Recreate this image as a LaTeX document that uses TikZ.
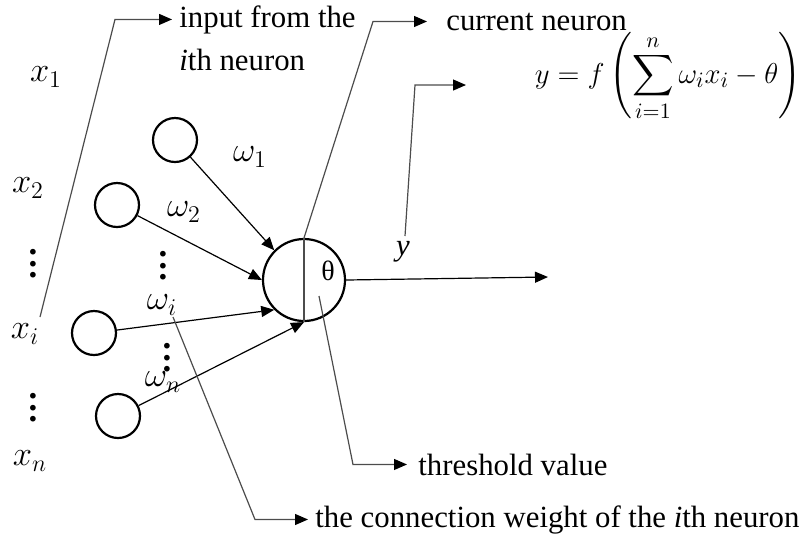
\documentclass[tikz,border=0pt]{standalone}
\usepackage{amsmath}
\usepackage{fontspec}
\setmainfont{Liberation Serif}
\usetikzlibrary{positioning,arrows.meta,calc}
\newcommand{\vdts}{\vbox{\baselineskip=5.8pt\lineskiplimit=0pt\hbox{\bfseries.}\hbox{\bfseries.}\hbox{\bfseries.}}}
\tikzset{
  neu/.style={circle,draw=black,line width=1.1pt,minimum size=22pt,inner sep=0pt},
  cneu/.style={neu,minimum size=41pt},
  wire/.style={-{Triangle[length=6.5pt,width=5.5pt]},line width=0.6pt},
  callout/.style={-{Triangle[length=6.5pt,width=5.5pt,color=black]},line width=0.6pt,black!70},
  lbl/.style={font=\fontsize{15.4}{21}\selectfont,inner sep=3.5pt},
  mlbl/.style={font=\fontsize{17.5}{21}\selectfont,inner sep=0pt},
}

\begin{document}
\begin{tikzpicture}[x=0.5pt,y=-0.5pt]
  \useasboundingbox (0,0) rectangle (808,538);
  % input neurons
  \node[neu] (n1) at (175,140) {};
  \node[neu] (n2) at (117,205) {};
  \node[neu] (ni) at (94,333) {};
  \node[neu] (nn) at (118,416) {};
  % current neuron, split by the threshold
  \node[cneu] (cur) at (304,280) {};
  \draw[line width=0.6pt,black!70] (cur.north) -- (cur.south);
  \node[lbl,inner sep=0pt,font=\fontsize{14}{16}\selectfont] (tht) at (328,271) {θ};
  % weighted inputs and output
  \draw[wire] (n1) -- (cur.135);
  \draw[wire] (n2) -- (cur.west);
  \draw[wire] (ni) -- (cur.225);
  \draw[wire] (nn) -- (cur.south);
  \coordinate (out) at (548,277);
  \draw[wire] (cur.east) -- (out);
  % inputs x and weights omega
  \node[mlbl] (x1) at (46,77) {$x_1$};
  \node[mlbl] (x2) at (28,188) {$x_2$};
  \node[mlbl] (d1) at (33,264) {\vdts};
  \node[mlbl] (xi) at (25,334) {$x_i$};
  \node[mlbl] (d2) at (33,408) {\vdts};
  \node[mlbl] (xn) at (30,461) {$x_n$};
  \node[mlbl] (w1) at (250,157) {$\omega_1$};
  \node[mlbl] (w2) at (184,212) {$\omega_2$};
  \node[mlbl] (d3) at (163,266) {\vdts};
  \node[mlbl] (wi) at (162,305) {$\omega_i$};
  \node[mlbl] (d4) at (167,358) {\vdts};
  \node[mlbl] (wn) at (163,382) {$\omega_n$};
  \node[lbl,inner sep=0pt] (yl) at (403,252) {\textit{y}};
  % callouts
  \node[lbl,anchor=base west] (inp) at (172,27) {input from the};
  \node[lbl,anchor=base west] (inp2) at (172,70) {\textit{i}th neuron};
  \coordinate (a1) at (40,317);
  \draw[callout] (a1) -- (115,0 |- inp.west) -- (inp.west);
  \node[lbl,anchor=base west,inner xsep=9.5pt] (cn) at (427,30) {current neuron};
  \draw[callout] (cur.north) -- (373,0 |- cn.west) -- (cn.west);
  \node[font=\fontsize{15.8}{18}\selectfont] (fx) at (668,77)
    {$\displaystyle y=f\left(\sum_{i=1}^{n}\omega_i x_i-\theta\right)$};
  \coordinate (ys) at (405,236);
  \coordinate (ye) at (466,85);
  \draw[callout] (ys) -- (415,85) -- (ye);
  \node[lbl,anchor=base west,inner xsep=5.5pt] (thl) at (407,475) {threshold value};
  \coordinate (t0) at (319,296);
  \draw[callout] (t0) -- (353,0 |- thl.west) -- (thl.west);
  \node[lbl,anchor=base west] (cw) at (308,527) {the connection weight of the \textit{i}th neuron};
  \coordinate (w0) at (173,317);
  \draw[callout] (w0) -- (255,0 |- cw.west) -- (cw.west);
\end{tikzpicture}
\end{document}
